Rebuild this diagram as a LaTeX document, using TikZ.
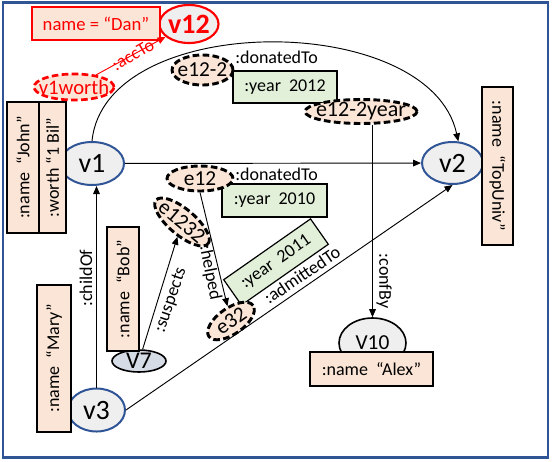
\documentclass[tikz,border=0pt]{standalone}
\usepackage{fontspec}
\setmainfont{Carlito}
\usetikzlibrary{arrows.meta,shapes.geometric}
\definecolor{peach}{HTML}{FBE5D6}
\definecolor{lgreen}{HTML}{E2F0D9}
\definecolor{lgray}{HTML}{EFEFEF}
\definecolor{dblue}{HTML}{2F5597}
\definecolor{vsev}{HTML}{D6DCE5}
\tikzset{
  vnode/.style={ellipse, draw=dblue, line width=1.5pt, fill=lgray, inner sep=-14pt, font=\fontsize{21}{23}\selectfont},
  enode/.style={ellipse, draw=black, line width=2.2pt, dash pattern=on 5pt off 2.5pt, fill=peach, inner sep=-14pt, font=\fontsize{16}{18}\selectfont},
  pbox/.style={rectangle, draw=black, line width=0.9pt, fill=peach, inner sep=0pt, font=\fontsize{13.5}{15}\selectfont},
  gbox/.style={rectangle, draw=black, line width=0.9pt, fill=lgreen, inner sep=0pt, font=\fontsize{13.5}{15}\selectfont},
  lbl/.style={inner sep=0pt, font=\fontsize{13.5}{15}\selectfont},
  conn/.style={line width=0.7pt, -{Triangle[length=6pt,width=5pt]}},
}
\begin{document}
\begin{tikzpicture}[x=0.75pt,y=-0.75pt]
\useasboundingbox (0,0) rectangle (552,461);
% frame
\draw[dblue, line width=1.6pt] (3,2.5) rectangle (548,457.5);

% main ellipses
\node[vnode, minimum width=48pt, minimum height=32.25pt] (v1) at (92,163.5) {v1};
\node[vnode, minimum width=45.75pt, minimum height=31.5pt] (v2) at (452.5,163) {v2};
\node[vnode, minimum width=42.75pt, minimum height=32.25pt] (v3) at (96.5,410) {v3};
\node[vnode, draw=red, line width=1.6pt, text=red, font=\fontsize{21}{23}\selectfont\bfseries, minimum width=44.25pt, minimum height=28.5pt] (v12) at (189,24) {v12};
\node[vnode, draw=black, line width=1.2pt, font=\fontsize{16}{18}\selectfont, minimum width=50.25pt, minimum height=37.5pt] (v10) at (372.5,343) {V10};
\node[vnode, draw=black, line width=1.2pt, fill=vsev, font=\fontsize{18}{20}\selectfont, minimum width=40.5pt, minimum height=16.5pt] (v7) at (139,361) {V7};

% peach boxes
\node[pbox, draw=red, text=red, font=\fontsize{14}{16}\selectfont, minimum width=96pt, minimum height=24.75pt] (dan) at (96,23.5) {name = “Dan”};
\node[pbox, rotate=90, minimum width=98.25pt, minimum height=24pt] (john) at (23,167.5) {:name\hspace{0.45em}“John”};
\node[pbox, rotate=90, minimum width=98.25pt, minimum height=20.25pt] (worth) at (52.5,167.5) {:worth “1 Bil”};
\node[pbox, rotate=90, minimum width=110.25pt, minimum height=25.5pt] (mary) at (54,358.5) {:name\hspace{0.45em}“Mary”};
\node[pbox, rotate=90, minimum width=93pt, minimum height=24pt] (bob) at (123,289) {:name\hspace{0.45em}“Bob”};
\node[pbox, rotate=-90, minimum width=118.5pt, minimum height=23.25pt] (topuniv) at (497.5,166) {:name\hspace{0.45em}“TopUniv”};
\node[pbox, minimum width=92.25pt, minimum height=25.5pt] (alex) at (371.5,369) {:name\hspace{0.45em}“Alex”};

% green boxes
\node[gbox, minimum width=78pt, minimum height=24pt] (y2012) at (285,87) {:year\hspace{0.45em}2012};
\node[gbox, minimum width=78.75pt, minimum height=24.75pt] (y2010) at (274.5,200.5) {:year\hspace{0.45em}2010};
\node[gbox, rotate=35, minimum width=79.5pt, minimum height=23.25pt] (y2011) at (276,262) {:year\hspace{0.45em}2011};

% dashed ellipses
\node[enode, draw=red, text=red, line width=2pt, font=\fontsize{15.5}{17}\selectfont, minimum width=60pt, minimum height=19.5pt] (v1worth) at (74,87) {v1worth};
\node[enode, minimum width=45.75pt, minimum height=22.5pt] (e122) at (202.5,70) {e12-2};
\node[enode, font=\fontsize{16.5}{18}\selectfont, minimum width=84pt, minimum height=18pt] (e122y) at (361,111.5) {e12-2year};
\node[enode, minimum width=49.5pt, minimum height=18.75pt] (e12) at (200,178.5) {e12};
\node[enode, rotate=-40, minimum width=51pt, minimum height=19.5pt] (e1232) at (182,222) {e1232};
\node[enode, rotate=35, minimum width=40.5pt, minimum height=19.5pt] (e32) at (231,321) {e32};

% connectors
\draw[conn] (v1) -- (v2);
\draw[conn] (v1.north) .. controls (105,10) and (430,10) .. (v2.75);
\draw[conn] (v3.north) -- (v3.north |- v1.south);
\draw[conn] (v3.east) -- (v2.south);
\draw[conn] (e12.south) -- (e32);
\draw[conn] (v7) -- (e1232);
\draw[conn] (v10.north |- e122y.south) -- (v10.north);
\draw[conn, red] (v1worth) -- (v12);

% labels
\node[lbl, text=red, rotate=30] (laccto) at (133,55) {:accTo};
\node[lbl, anchor=west] (ldon1) at (235,57) {:donatedTo};
\node[lbl, anchor=west] (ldon2) at (235,174) {:donatedTo};
\node[lbl, rotate=-79] (lhelped) at (210,273) {:helped};
\node[lbl, rotate=71] (lsusp) at (171,300) {:suspects};
\node[lbl, rotate=90] (lchild) at (86,278) {:childOf};
\node[lbl, rotate=34] (ladm) at (302,275) {:admittedTo};
\node[lbl, rotate=-90] (lconf) at (384,281) {:confBy};
\end{tikzpicture}
\end{document}
